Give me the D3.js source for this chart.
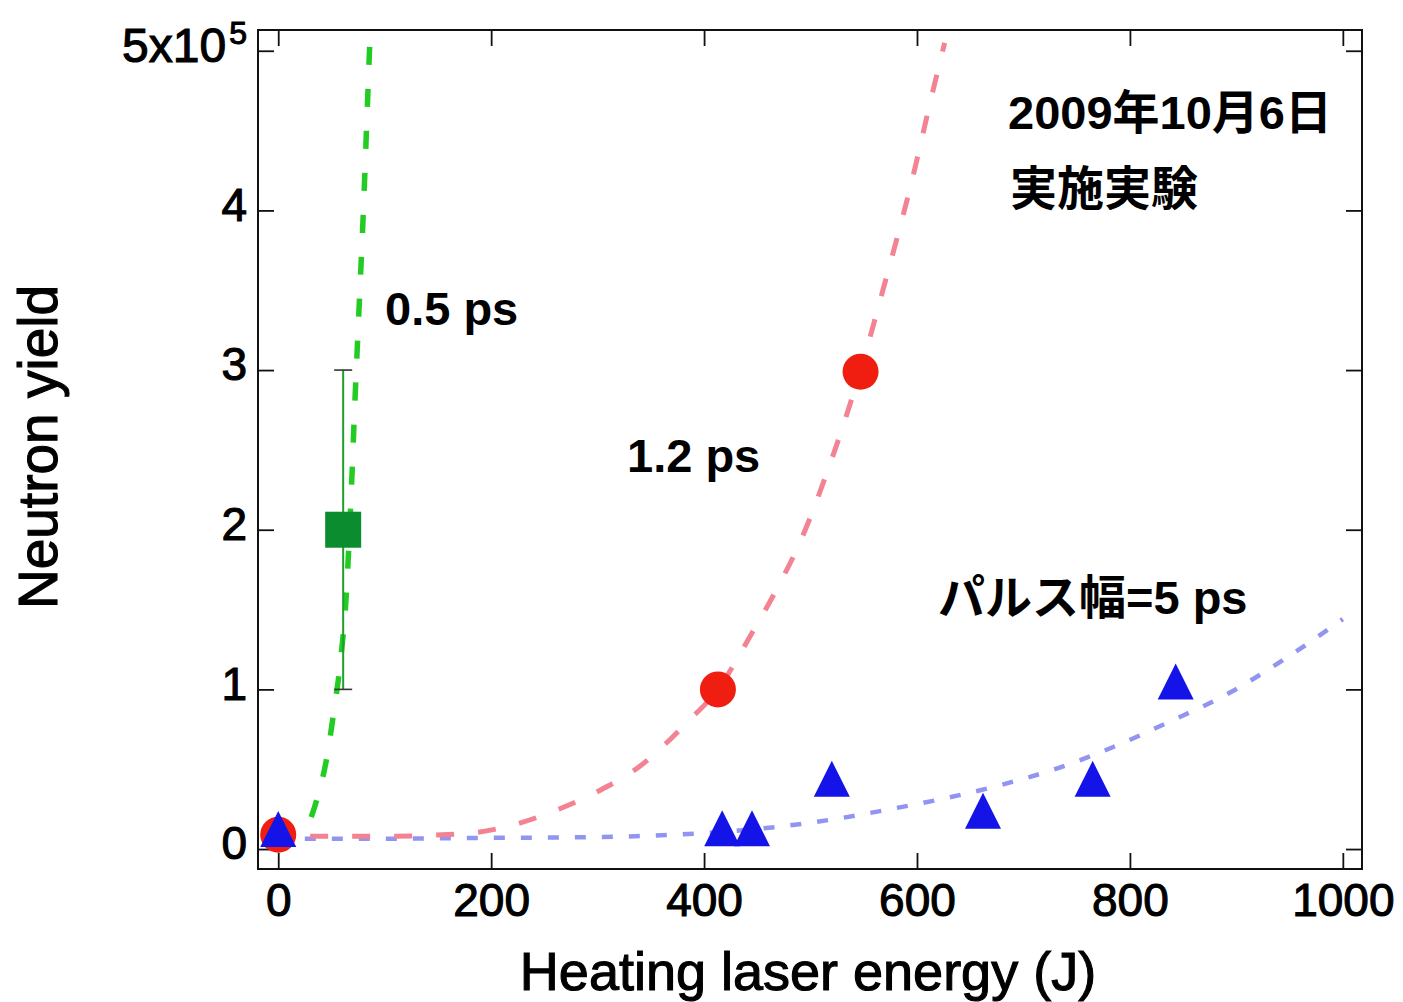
<!DOCTYPE html>
<html>
<head>
<meta charset="utf-8">
<script src="https://cdn.jsdelivr.net/npm/d3@7"></script>
<style>
  html, body { margin: 0; padding: 0; background: #fff; }
  svg { display: block; }
</style>
</head>
<body>
<svg id="chart" width="1403" height="1002"></svg>
<script>
// Neutron yield vs heating laser energy, three pulse widths.
// Energies in J, yields in units of 1e5 neutrons.

// 0.5 ps pulse: one shot with error bar
const shortEnergy = [61];
const shortYield = [2.0];
const shortErrLow = [1.0];
const shortErrHigh = [3.0];

// 1.2 ps pulse shots
const midEnergy = [0, 413, 547];
const midYield = [0.09, 1.0, 2.99];

// 5 ps pulse shots
const longEnergy = [0, 417, 445, 520, 662, 765, 843];
const longYield = [0.125, 0.13, 0.13, 0.44, 0.24, 0.44, 1.05];

// Trend curves (dashed), sampled points
const shortFitE = [31, 38, 45, 52, 58, 64, 69, 72, 75, 80, 84, 86];
const shortFitY = [0.2, 0.35, 0.55, 0.85, 1.15, 1.6, 2.3, 2.8, 3.25, 4.0, 4.7, 5.05];

const midFitE = [30, 100, 180, 220, 260, 300, 340, 385, 413, 443, 470, 490, 515, 547, 570, 595, 615, 626];
const midFitY = [0.08, 0.08, 0.1, 0.15, 0.24, 0.36, 0.52, 0.8, 1.0, 1.33, 1.65, 1.92, 2.35, 3.0, 3.55, 4.18, 4.75, 5.05];

const longFitE = [25, 100, 200, 300, 400, 470, 525, 575, 628, 678, 734, 781, 838, 894, 943, 1000];
const longFitY = [0.065, 0.065, 0.07, 0.075, 0.1, 0.14, 0.19, 0.25, 0.32, 0.4, 0.51, 0.63, 0.8, 0.98, 1.18, 1.44];

// Axis ticks
const xTicks = [0, 200, 400, 600, 800, 1000];
const yTicks = [0, 1, 2, 3, 4, 5];

// Labels
const xTitle = "Heating laser energy (J)";
const yTitle = "Neutron yield";
const seriesLabels = ["0.5 ps", "1.2 ps", "パルス幅=5 ps"];
const dateLines = ["2009年10月6日", "実施実験"];

const svg = d3.select("#chart");
const plotLeft = 258, plotRight = 1362, plotTop = 30, plotBottom = 869;

const x = d3.scaleLinear().domain([-19, 1018]).range([plotLeft, plotRight]);
const y = d3.scaleLinear().domain([-0.125, 5.13]).range([plotBottom, plotTop]);

const tickFont = "'Liberation Sans', Arial, Helvetica, sans-serif";
const cjkFont = "'Liberation Sans', 'Noto Sans CJK JP', sans-serif";

// ---- axes (ticks point inward on all four sides) ----
function styleAxis(g) {
  g.select(".domain").remove();
  g.selectAll(".tick line").attr("stroke", "#111").attr("stroke-width", 1.8);
  g.selectAll(".tick text")
    .attr("fill", "#000")
    .attr("stroke", "#000")
    .attr("stroke-width", 1.1)
    .attr("paint-order", "stroke")
    .style("font-family", tickFont)
    .style("font-size", "46px");
}

svg.append("g")
  .attr("transform", `translate(0,${plotBottom})`)
  .call(d3.axisBottom(x).tickValues(xTicks).tickSize(-16).tickPadding(14).tickFormat(d3.format("d")))
  .call(styleAxis);

svg.append("g")
  .attr("transform", `translate(0,${plotTop})`)
  .call(d3.axisTop(x).tickValues(xTicks).tickSize(-16).tickFormat(""))
  .call(styleAxis);

const yAxisG = svg.append("g")
  .attr("transform", `translate(${plotLeft},0)`)
  .call(d3.axisLeft(y).tickValues(yTicks).tickSize(-16).tickPadding(11).tickFormat(d3.format("d")))
  .call(styleAxis);
yAxisG.selectAll(".tick text").attr("transform", "translate(0,-5)");

// top label carries the 10^5 multiplier
yAxisG.selectAll(".tick text").filter(d => d === 5).each(function () {
  const t = d3.select(this).text(null).style("font-size", "48px");
  t.append("tspan").text("5x10");
  t.append("tspan").attr("dx", 3).attr("dy", "-0.55em").style("font-size", "32px").text("5");
});

svg.append("g")
  .attr("transform", `translate(${plotRight},0)`)
  .call(d3.axisRight(y).tickValues(yTicks).tickSize(-16).tickFormat(""))
  .call(styleAxis);

// frame
svg.append("rect")
  .attr("x", plotLeft).attr("y", plotTop)
  .attr("width", plotRight - plotLeft).attr("height", plotBottom - plotTop)
  .attr("fill", "none").attr("stroke", "#111").attr("stroke-width", 2);

// axis titles
svg.append("text")
  .attr("x", (plotLeft + plotRight) / 2 - 2).attr("y", 990)
  .attr("text-anchor", "middle")
  .style("font-family", tickFont).style("font-size", "54px")
  .attr("fill", "#000").attr("stroke", "#000").attr("stroke-width", 1.1)
  .text(xTitle);

svg.append("text")
  .attr("transform", "translate(57,447) rotate(-90)")
  .attr("text-anchor", "middle")
  .style("font-family", tickFont).style("font-size", "55px")
  .attr("fill", "#000").attr("stroke", "#000").attr("stroke-width", 1.1)
  .text(yTitle);

// ---- dashed trend curves ----
const line = d3.line().x(d => x(d[0])).y(d => y(d[1])).curve(d3.curveMonotoneX);

svg.append("path")
  .datum(longFitE.map((e, i) => [e, longFitY[i]]))
  .attr("d", line).attr("fill", "none")
  .attr("stroke", "#9294f2").attr("stroke-width", 4.5)
  .attr("stroke-dasharray", "11,16");

svg.append("path")
  .datum(midFitE.map((e, i) => [e, midFitY[i]]))
  .attr("d", line).attr("fill", "none")
  .attr("stroke", "#f38292").attr("stroke-width", 5)
  .attr("stroke-dasharray", "18,24");

svg.append("path")
  .datum(shortFitE.map((e, i) => [e, shortFitY[i]]))
  .attr("d", line).attr("fill", "none")
  .attr("stroke", "#22cc22").attr("stroke-width", 5.5)
  .attr("stroke-dasharray", "18,24");

// ---- 0.5 ps point with error bar ----
const errG = svg.append("g");
shortEnergy.forEach((e, i) => {
  const cx = x(e);
  errG.append("line")
    .attr("x1", cx).attr("x2", cx)
    .attr("y1", y(shortErrLow[i])).attr("y2", y(shortErrHigh[i]))
    .attr("stroke", "#1fa02a").attr("stroke-width", 2);
  [shortErrLow[i], shortErrHigh[i]].forEach(v => {
    errG.append("line")
      .attr("x1", cx - 9).attr("x2", cx + 9)
      .attr("y1", y(v)).attr("y2", y(v))
      .attr("stroke", "#333").attr("stroke-width", 1.6);
  });
});

const sq = 36;
svg.append("g").selectAll("rect")
  .data(shortEnergy.map((e, i) => [e, shortYield[i]]))
  .join("rect")
  .attr("x", d => x(d[0]) - sq / 2).attr("y", d => y(d[1]) - sq / 2)
  .attr("width", sq).attr("height", sq)
  .attr("fill", "#0b8c2e");

// ---- 1.2 ps circles ----
svg.append("g").selectAll("circle")
  .data(midEnergy.map((e, i) => [e, midYield[i]]))
  .join("circle")
  .attr("cx", d => x(d[0])).attr("cy", d => y(d[1]))
  .attr("r", 18)
  .attr("fill", "#f01e10");

// ---- 5 ps triangles ----
const tw = 36, th = 36;
svg.append("g").selectAll("path")
  .data(longEnergy.map((e, i) => [e, longYield[i]]))
  .join("path")
  .attr("d", d => {
    const cx = x(d[0]), cy = y(d[1]);
    return `M${cx},${cy - th / 2}L${cx + tw / 2},${cy + th / 2}L${cx - tw / 2},${cy + th / 2}Z`;
  })
  .attr("fill", "#1414e8");

// ---- annotations ----
const ann = svg.append("g")
  .style("font-family", cjkFont).style("font-size", "47px").style("font-weight", "bold")
  .attr("fill", "#000");
ann.append("text").attr("x", 385).attr("y", 325).text(seriesLabels[0]);
ann.append("text").attr("x", 627).attr("y", 472).text(seriesLabels[1]);
ann.append("text").attr("x", 938).attr("y", 614).text(seriesLabels[2]);
ann.append("text").attr("x", 1008).attr("y", 129).text(dateLines[0]);
ann.append("text").attr("x", 1010).attr("y", 205).text(dateLines[1]);
</script>
</body>
</html>
